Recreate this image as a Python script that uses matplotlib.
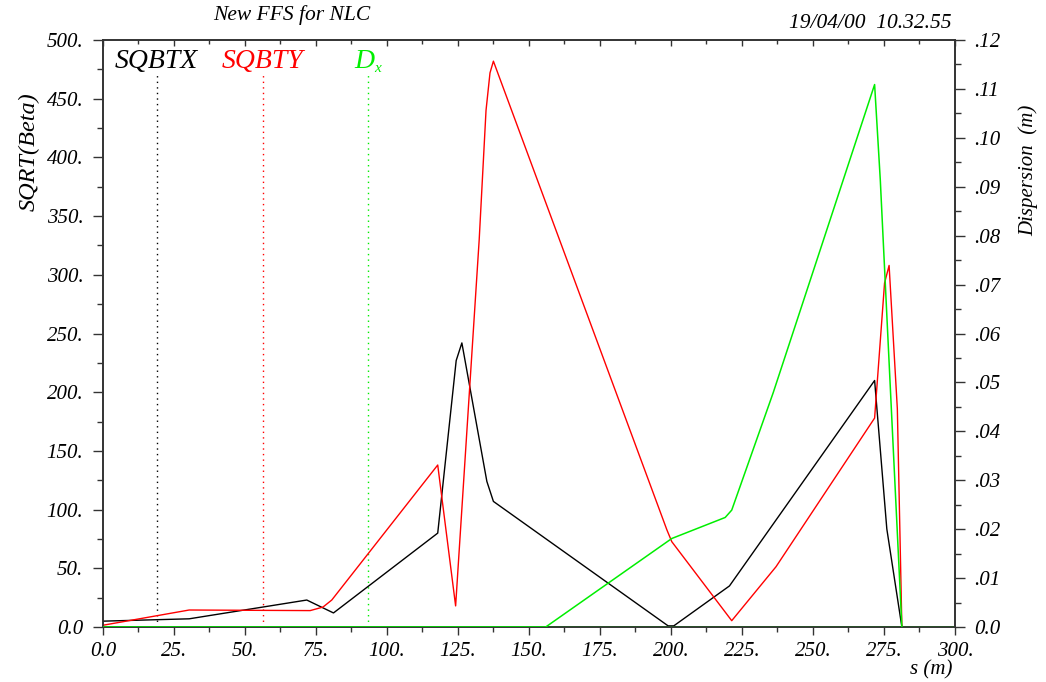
import matplotlib
matplotlib.use("Agg")
import matplotlib.pyplot as plt
from matplotlib.ticker import MultipleLocator, FuncFormatter

plt.rcParams['font.family'] = 'Liberation Serif'
plt.rcParams['font.style'] = 'italic'

# SQRT(beta_x) along s
black_s = [0, 30.4, 71.8, 81.2, 117.9, 124.4, 126.4, 135.2, 137.5, 199, 201, 220.6, 271.7, 276, 281.3]
black_v = [5, 7, 23, 12, 80, 227, 242, 124, 107, 1, 1, 35, 210, 83.5, 0]

# SQRT(beta_y) along s
red_s = [0, 30.4, 73, 77.5, 80.6, 117.9, 124.2, 132.5, 134.9, 136.3, 137.5, 198.6, 200.3,
         221.4, 237, 271.7, 275.2, 276.8, 279.7, 281.3]
red_v = [1.5, 14.5, 14, 17, 23, 138, 18, 330, 440, 472, 482, 82.6, 72.7,
         5.4, 51.4, 178, 293, 308, 186, 0]

# horizontal dispersion (m)
green_s = [0, 155.9, 200.3, 219.1, 221.4, 236, 271.7, 273.7, 281.3]
green_v = [0, 0, 0.0181, 0.0224, 0.0239, 0.0479, 0.1109, 0.0914, 0]

# legend marker lines
marker_s = [19.1, 56.3, 93.5]
marker_c = ['black', 'red', '#00ee00']

GREEN = '#00ee00'
AX = '#333333'

fig = plt.figure(figsize=(10.46, 6.82), dpi=100)
ax = fig.add_axes([0.0983, 0.0806, 0.8147, 0.8607])
ax2 = ax.twinx()

ax.plot(black_s, black_v, color='black', lw=1.0, zorder=3)
ax.plot(red_s, red_v, color='red', lw=1.0, zorder=3)
ax2.plot(green_s, green_v, color=GREEN, lw=1.1, zorder=3)
ax2.axhline(0, color=GREEN, lw=2.0, zorder=2)

for s, c in zip(marker_s, marker_c):
    ax.vlines(s, 0, 470, colors=c, linestyles=(0, (1, 3)), lw=1.0)

ax.set_xlim(0, 300)
ax.set_ylim(0, 500)
ax2.set_ylim(0, 0.12)

def fmt_left(v, pos):
    return '0.0' if v == 0 else '%d.' % round(v)

def fmt_right(v, pos):
    return '0.0' if abs(v) < 1e-9 else '.%02d' % round(v * 100)

ax.xaxis.set_major_locator(MultipleLocator(25))
ax.xaxis.set_minor_locator(MultipleLocator(12.5))
ax.xaxis.set_major_formatter(FuncFormatter(fmt_left))
ax.yaxis.set_major_locator(MultipleLocator(50))
ax.yaxis.set_minor_locator(MultipleLocator(25))
ax.yaxis.set_major_formatter(FuncFormatter(fmt_left))
ax2.yaxis.set_major_locator(MultipleLocator(0.01))
ax2.yaxis.set_minor_locator(MultipleLocator(0.005))
ax2.yaxis.set_major_formatter(FuncFormatter(fmt_right))

ax.tick_params(axis='x', which='major', direction='out', length=6, width=1, color=AX,
               labelsize=15, pad=5)
ax.tick_params(axis='x', which='minor', direction='out', length=3.5, width=1, color=AX)
ax.tick_params(axis='y', which='major', direction='out', length=7, width=1, color=AX,
               labelsize=15, pad=7)
ax.tick_params(axis='y', which='minor', direction='out', length=4, width=1, color=AX)
ax2.tick_params(axis='y', which='major', direction='out', length=7, width=1, color=AX,
                labelsize=15, pad=7)
ax2.tick_params(axis='y', which='minor', direction='out', length=4, width=1, color=AX)

# top ticks point inward
secx = ax.secondary_xaxis('top')
secx.xaxis.set_major_locator(MultipleLocator(25))
secx.xaxis.set_minor_locator(MultipleLocator(12.5))
secx.tick_params(which='major', direction='in', length=4, width=1, color=AX, labeltop=False)
secx.tick_params(which='minor', direction='in', length=3, width=1, color=AX)
secx.spines['top'].set_visible(False)

for a in (ax, ax2):
    for sp in a.spines.values():
        sp.set_color(AX)
        sp.set_linewidth(1.2)

fig.text(0.279, 0.978, 'New FFS for NLC', fontsize=15.5, ha='center', va='center')
fig.text(0.910, 0.966, '19/04/00  10.32.55', fontsize=15.5, ha='right', va='center')

fig.text(0.110, 0.910, 'SQBTX', fontsize=20, color='black', va='center')
fig.text(0.212, 0.910, 'SQBTY', fontsize=20, color='red', va='center')
fig.text(0.339, 0.910, 'D', fontsize=20, color=GREEN, va='center')
fig.text(0.358, 0.900, 'x', fontsize=11, color=GREEN, va='center')

fig.text(0.028, 0.777, 'SQRT(Beta)', fontsize=17.5, rotation=90, ha='center', va='center')
fig.text(0.983, 0.750, 'Dispersion  (m)', fontsize=15, rotation=90, ha='center', va='center')
fig.text(0.911, 0.018, 's (m)', fontsize=15, ha='right', va='center')

fig.savefig('out.png', dpi=100)
